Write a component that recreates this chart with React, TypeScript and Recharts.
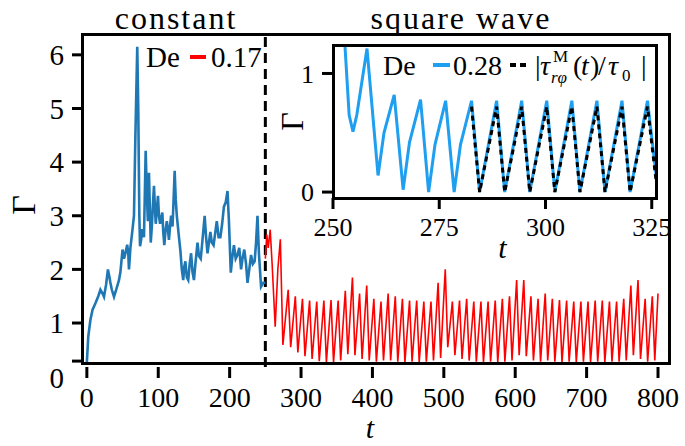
import React from "react";
import { LineChart, Line, XAxis, YAxis, ReferenceLine, Legend } from "recharts";

const FONT = "Liberation Serif, DejaVu Serif, serif";

// constant forcing, t = 0..250 (Gamma vs t)
const constantRun: [number, number][] = [
  [0, 0.27], [2, 0.75], [5, 1.06], [8, 1.25], [12, 1.37], [16, 1.5], [19, 1.62], [22, 1.55],
  [24, 1.49], [27, 1.72], [29.5, 2.0], [31, 1.9], [33, 1.75], [35, 1.62], [38, 1.49], [41, 1.62],
  [45, 1.8], [47, 1.95], [50, 2.37], [52, 2.2], [54, 2.3], [56.5, 2.46], [58, 2.3], [59, 2.0],
  [61, 2.4], [63.5, 2.69], [66, 3.0], [68, 4.5], [70.6, 6.15], [72, 5.0], [73.5, 3.0], [74.5, 2.43],
  [76, 2.55], [77.5, 2.75], [80, 2.6], [82.4, 4.21], [84, 3.4], [85.5, 2.9], [87, 3.8], [88.5, 3.0],
  [89.5, 2.5], [91, 2.8], [92.5, 3.2], [94, 3.56], [95.5, 3.1], [96.5, 2.85], [98, 3.1], [99.6, 3.37],
  [101, 3.0], [102.5, 2.85], [104, 2.95], [105.7, 3.06], [107, 2.7], [108.5, 2.45], [110, 2.7],
  [112, 2.9], [113.5, 2.75], [115, 2.55], [116.5, 2.8], [118, 3.0], [120, 2.8], [121.5, 3.3],
  [123, 3.84], [124.5, 3.3], [126, 3.0], [127.5, 2.8], [129, 2.6], [131, 2.35], [133, 2.0],
  [135, 1.8], [136.5, 2.05], [138, 2.15], [140, 1.85], [142, 1.8], [144, 2.1], [146, 2.3],
  [148, 1.95], [150, 1.8], [152, 2.1], [155, 2.5], [157, 2.25], [159.5, 2.2], [162, 2.55],
  [165, 3.0], [167, 2.6], [169, 2.3], [171, 2.5], [173, 2.7], [175, 2.5], [177.5, 2.45], [180, 2.7],
  [182, 2.9], [184.5, 2.6], [187, 2.6], [189.5, 2.85], [192, 3.17], [194.5, 3.25], [197, 3.46],
  [199, 2.9], [201.6, 1.94], [203.5, 2.2], [206, 2.45], [208.5, 2.2], [211, 2.27], [213.5, 2.4],
  [216, 2.0], [218, 2.2], [220.5, 2.37], [223, 2.1], [225, 1.75], [227.5, 2.0], [230, 2.27],
  [232.5, 2.1], [235, 2.15], [237, 2.5], [239, 3.0], [241, 2.3], [244, 1.68], [247, 1.75], [250, 1.75],
];

// square wave forcing, De = 0.17, t = 250..800
const squareWaveRun: [number, number][] = [
  [250, 2.2], [252, 2.65], [254, 2.4], [256.8, 2.74], [259.5, 2.1], [263.8, 0.93], [267.5, 2.0],
  [271, 2.56], [274.6, 0.59], [282, 1.62], [285.5, 0.55], [292, 1.5], [295.5, 0.45], [302, 1.45],
  [305.5, 0.38], [312, 1.42], [315.5, 0.33], [322, 1.4], [325.5, 0.29], [332, 1.42], [335.5, 0.27],
  [342, 1.43], [345.5, 0.27], [352, 1.42], [355.5, 0.3], [362, 1.6], [365.5, 0.42], [372, 1.85],
  [375.5, 0.4], [382, 1.55], [385.5, 0.33], [392, 1.7], [395.5, 0.3], [402, 1.45], [405.5, 0.28],
  [412, 1.4], [415.5, 0.3], [422, 1.55], [425.5, 0.3], [432, 1.5], [435.5, 0.28], [442, 1.45],
  [445.5, 0.27], [452, 1.42], [455.5, 0.28], [462, 1.42], [465.5, 0.27], [472, 1.4], [475.5, 0.28],
  [482, 1.4], [485.5, 0.3], [492, 1.75], [495.5, 0.35], [502, 2.0], [505.5, 0.55], [512, 1.4],
  [515.5, 0.4], [522, 1.42], [525.5, 0.33], [532, 1.45], [535.5, 0.3], [542, 1.4], [545.5, 0.28],
  [552, 1.4], [555.5, 0.27], [562, 1.4], [565.5, 0.28], [572, 1.42], [575.5, 0.27], [582, 1.45],
  [585.5, 0.28], [592, 1.5], [595.5, 0.3], [602, 1.8], [605.5, 0.4], [612, 1.8], [615.5, 0.38],
  [622, 1.5], [625.5, 0.3], [632, 1.45], [635.5, 0.28], [642, 1.55], [645.5, 0.3], [652, 1.45],
  [655.5, 0.28], [662, 1.43], [665.5, 0.27], [672, 1.42], [675.5, 0.28], [682, 1.4], [685.5, 0.27],
  [692, 1.4], [695.5, 0.28], [702, 1.4], [705.5, 0.27], [712, 1.42], [715.5, 0.28], [722, 1.42],
  [725.5, 0.27], [732, 1.4], [735.5, 0.28], [742, 1.4], [745.5, 0.28], [752, 1.45], [755.5, 0.3],
  [762, 1.7], [765.5, 0.4], [772, 1.8], [775.5, 0.33], [782, 1.45], [785.5, 0.28], [792, 1.5],
  [795.5, 0.3], [800, 1.55],
];

// inset, De = 0.28
const insetGamma: [number, number][] = [
  [250, 2.2], [251.5, 1.6], [252.8, 1.24], [253.8, 0.65], [254.7, 0.51], [255.6, 0.65], [258, 1.21],
  [260.6, 0.14], [262, 0.5], [264.4, 0.82], [266.5, 0.02], [268, 0.42], [270.6, 0.78], [272.5, 0.0],
  [274, 0.4], [276.5, 0.77], [278.5, 0.0], [280, 0.4], [282.6, 0.77], [284.5, 0.0], [288.5, 0.77],
  [290.4, 0.0], [294.4, 0.77], [296.3, 0.0], [300.3, 0.77], [302.2, 0.0], [306.2, 0.77], [308.1, 0.0],
  [312.1, 0.77], [314, 0.0], [318, 0.77], [319.9, 0.0], [324, 0.77], [326, 0.15],
];
const insetStress: [number, number][] = [
  [282.6, 0.72], [284.5, 0.0], [288.5, 0.72], [290.4, 0.0], [294.4, 0.72], [296.3, 0.0],
  [300.3, 0.72], [302.2, 0.0], [306.2, 0.72], [308.1, 0.0], [312.1, 0.72], [314, 0.0],
  [318, 0.72], [319.9, 0.0], [324, 0.72], [326, 0.1],
];

const switchTime = 250;
const mainXTicks = [0, 100, 200, 300, 400, 500, 600, 700, 800];
const mainYTicks = [0.29, 1, 2, 3, 4, 5, 6];
const mainYTickLabels = ["0", "1", "2", "3", "4", "5", "6"];
const mainXDomain = [-5.4, 821];
const mainYDomain = [0.18, 6.37];
const insetXTicks = [250, 275, 300, 325];
const insetYTicks = [0, 1];
const insetXDomain = [250, 326];
const insetYDomain = [-0.05, 1.24];

const toPoints = (run: [number, number][]) => run.map(([t, g]) => ({ t, g }));

const TICK_SIZE = 11;
const X_MARGIN = 9;
const Y_MARGIN = 8;

function makeXTick(fontSize: number) {
  return function XTick({ x, y, payload }: any) {
    const axisY = y - X_MARGIN - TICK_SIZE;
    return (
      <g>
        <line x1={x} x2={x} y1={axisY} y2={axisY + TICK_SIZE} stroke="#000" strokeWidth={3} />
        <text x={x} y={y} dy="0.71em" textAnchor="middle" fontSize={fontSize} fontFamily={FONT} fill="#000">
          {payload.value}
        </text>
      </g>
    );
  };
}

function makeYTick(fontSize: number, labelFor: (v: number) => string, shiftFor: (v: number) => number) {
  return function YTick({ x, y, payload }: any) {
    const axisX = x + Y_MARGIN + TICK_SIZE;
    return (
      <g>
        <line x1={axisX - TICK_SIZE} x2={axisX} y1={y} y2={y} stroke="#000" strokeWidth={3} />
        <text x={x} y={y + shiftFor(payload.value)} dy="0.35em" textAnchor="end" fontSize={fontSize} fontFamily={FONT} fill="#000">
          {labelFor(payload.value)}
        </text>
      </g>
    );
  };
}

const MainXTick = makeXTick(28);
const InsetXTick = makeXTick(26);
// the "0" label sits a little below its tick in the original figure
const MainYTick = makeYTick(
  29,
  (v) => mainYTickLabels[mainYTicks.indexOf(v)],
  (v) => (v < 0.5 ? 17 : 0)
);
const InsetYTick = makeYTick(26, (v) => String(v), () => 0);

function MainKey() {
  return (
    <svg width={125} height={40} style={{ fontFamily: FONT, display: "block" }}>
      <text x={2} y={31} fontSize={29} fill="#000">De</text>
      <line x1={46} x2={62} y1={21} y2={21} stroke="#ff0000" strokeWidth={4} />
      <text x={67} y={31} fontSize={29} fill="#000">0.17</text>
    </svg>
  );
}

function InsetKey() {
  return (
    <svg width={285} height={46} style={{ fontFamily: FONT, display: "block" }}>
      <text x={0} y={31} fontSize={28} fill="#000">De</text>
      <line x1={50} x2={67} y1={21} y2={21} stroke="#1e9ff0" strokeWidth={4} />
      <text x={70} y={31} fontSize={28} fill="#000">0.28</text>
      <line x1={127} x2={147} y1={21} y2={21} stroke="#000" strokeWidth={4} strokeDasharray="6 4" />
      <text x={152} y={31} fontSize={28} fill="#000">|</text>
      <text x={157} y={31} fontSize={28} fontStyle="italic" fill="#000">τ</text>
      <text x={170} y={18} fontSize={17} fill="#000">M</text>
      <text x={168} y={39} fontSize={17} fontStyle="italic" fill="#000">rφ</text>
      <text x={190} y={31} fontSize={28} fill="#000">(</text>
      <text x={198} y={31} fontSize={28} fontStyle="italic" fill="#000">t</text>
      <text x={207} y={31} fontSize={28} fill="#000">)</text>
      <text x={215} y={31} fontSize={28} fill="#000">/</text>
      <text x={225} y={31} fontSize={28} fontStyle="italic" fill="#000">τ</text>
      <text x={239} y={37} fontSize={17} fill="#000">0</text>
      <text x={258} y={31} fontSize={28} fill="#000">|</text>
    </svg>
  );
}

function InsetChart() {
  return (
    <LineChart width={400} height={230} margin={{ top: 10, right: 14, bottom: 0, left: 0 }} style={{ fontFamily: FONT }}>
      <XAxis
        dataKey="t"
        type="number"
        domain={insetXDomain}
        ticks={insetXTicks}
        axisLine={false}
        tickLine={false}
        tickSize={TICK_SIZE}
        tickMargin={X_MARGIN}
        height={67}
        tick={<InsetXTick />}
        label={{
          value: "t",
          content: ({ viewBox }: any) => (
            <text x={viewBox.x + viewBox.width / 2 + 8} y={223} textAnchor="middle" fontSize={30} fontStyle="italic" fontFamily={FONT} fill="#000">
              t
            </text>
          ),
        }}
      />
      <YAxis
        type="number"
        domain={insetYDomain}
        ticks={insetYTicks}
        allowDataOverflow
        axisLine={false}
        tickLine={false}
        tickSize={TICK_SIZE}
        tickMargin={Y_MARGIN}
        width={63}
        tick={<InsetYTick />}
        label={{
          value: "Γ",
          content: ({ viewBox }: any) => {
            const cx = viewBox.x + 22;
            const cy = viewBox.y + viewBox.height / 2;
            return (
              <text x={cx} y={cy} dy="0.35em" transform={`rotate(-90 ${cx} ${cy})`} textAnchor="middle" fontSize={32} fontFamily={FONT} fill="#000">
                Γ
              </text>
            );
          },
        }}
      />
      <Line data={toPoints(insetGamma)} dataKey="g" type="linear" stroke="#1e9ff0" strokeWidth={3} dot={false} isAnimationActive={false} />
      <Line data={toPoints(insetStress)} dataKey="g" type="linear" stroke="#000" strokeWidth={3} strokeDasharray="5 4" dot={false} isAnimationActive={false} />
      <Legend
        layout="horizontal"
        verticalAlign="middle"
        align="center"
        wrapperStyle={{ left: 113, top: 9, width: 285, height: 46 }}
        content={() => <InsetKey />}
      />
    </LineChart>
  );
}

export default function App() {
  return (
    <div style={{ position: "absolute", left: 0, top: 0, width: 685, height: 446, background: "#fff", fontFamily: FONT }}>
      <LineChart width={685} height={446} margin={{ top: 35, right: 12, bottom: 0, left: 0 }} style={{ fontFamily: FONT }}>
        <XAxis
          dataKey="t"
          type="number"
          domain={mainXDomain}
          ticks={mainXTicks}
          axisLine={false}
          tickLine={false}
          tickSize={TICK_SIZE}
          tickMargin={X_MARGIN}
          height={79}
          tick={<MainXTick />}
          label={{
            value: "t",
            content: ({ viewBox }: any) => (
              <text x={viewBox.x + viewBox.width / 2 - 8} y={438} textAnchor="middle" fontSize={30} fontStyle="italic" fontFamily={FONT} fill="#000">
                t
              </text>
            ),
          }}
        />
        <YAxis
          type="number"
          domain={mainYDomain}
          ticks={mainYTicks}
          axisLine={false}
          tickLine={false}
          tickSize={TICK_SIZE}
          tickMargin={Y_MARGIN}
          width={83}
          tick={<MainYTick />}
          label={{
            value: "Γ",
            content: ({ viewBox }: any) => {
              const cx = viewBox.x + 23;
              const cy = viewBox.y + viewBox.height / 2 + 4;
              return (
                <text x={cx} y={cy} dy="0.35em" transform={`rotate(-90 ${cx} ${cy})`} textAnchor="middle" fontSize={34} fontFamily={FONT} fill="#000">
                  Γ
                </text>
              );
            },
          }}
        />
        <ReferenceLine x={switchTime} stroke="#000" strokeWidth={3} strokeDasharray="10 6" />
        <Line data={toPoints(constantRun)} dataKey="g" type="linear" stroke="#1f77b4" strokeWidth={2.6} dot={false} isAnimationActive={false} />
        <Line data={toPoints(squareWaveRun)} dataKey="g" type="linear" stroke="#ff0000" strokeWidth={1.6} dot={false} isAnimationActive={false} />
        <Legend
          layout="horizontal"
          verticalAlign="middle"
          align="center"
          wrapperStyle={{ left: 144, top: 36, width: 125, height: 40 }}
          content={() => <MainKey />}
        />
      </LineChart>

      {/* plot frames, drawn as plain boxes over the plot areas */}
      <div
        style={{
          position: "absolute",
          left: 83 - 1.75,
          top: 35 - 1.75,
          width: 590,
          height: 332,
          border: "3.5px solid #000",
          boxSizing: "border-box",
          pointerEvents: "none",
        }}
      />
      <div style={{ position: "absolute", left: 270, top: 35 }}>
        <InsetChart />
      </div>
      <div
        style={{
          position: "absolute",
          left: 333 - 1.5,
          top: 45 - 1.5,
          width: 326,
          height: 156,
          border: "3px solid #000",
          boxSizing: "border-box",
          pointerEvents: "none",
        }}
      />

      <svg width={685} height={36} style={{ position: "absolute", left: 0, top: 0, fontFamily: FONT }}>
        <text x={176} y={29} textAnchor="middle" fontSize={32} letterSpacing={2} fill="#000">
          constant
        </text>
        <text x={461} y={29} textAnchor="middle" fontSize={32} letterSpacing={2} fill="#000">
          square wave
        </text>
      </svg>
    </div>
  );
}
